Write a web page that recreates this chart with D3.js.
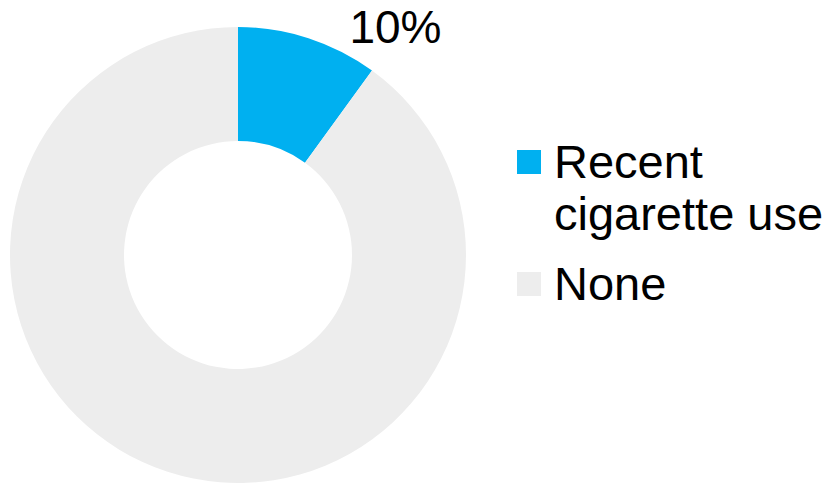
<!DOCTYPE html>
<html><head><meta charset="utf-8">
<script src="https://cdn.jsdelivr.net/npm/d3@7"></script>
<style>body{margin:0;background:#fff}svg{display:block}</style>
</head><body>
<script>
const categories = ["Recent cigarette use", "None"];
const legendLines = [["Recent", "cigarette use"], ["None"]];
const values = [10, 90];
const labels = ["10%", ""];
const colors = ["#00B0F0", "#EDEDED"];

const W = 829, H = 483;
const svg = d3.select("body").append("svg").attr("width", W).attr("height", H);
const cx = 238, cy = 255, rOuter = 228, rInner = 114;
const pie = d3.pie().sort(null).value(d => d)(values);
const arc = d3.arc().innerRadius(rInner).outerRadius(rOuter);
const g = svg.append("g").attr("transform", `translate(${cx},${cy})`);
g.selectAll("path").data(pie).join("path").attr("d", arc).attr("fill", (d, i) => colors[i]);

const FONT = "'Liberation Sans', Arial, sans-serif";
// label for first slice
svg.append("text").attr("x", 395.5).attr("y", 43).attr("text-anchor", "middle")
  .attr("font-family", FONT).attr("font-size", 46).attr("fill", "#000")
  .text(labels[0]);

// legend
const legendY = [150, 272];
const lg = svg.append("g");
categories.forEach((c, i) => {
  lg.append("rect").attr("x", 517).attr("y", legendY[i]).attr("width", 24).attr("height", 24).attr("fill", colors[i]);
  const t = lg.append("text").attr("font-family", FONT).attr("font-size", 47).attr("fill", "#000");
  legendLines[i].forEach((line, j) => {
    t.append("tspan").attr("x", 554).attr("y", legendY[i] + 28 + j * 52).text(line);
  });
});
</script>
</body></html>
